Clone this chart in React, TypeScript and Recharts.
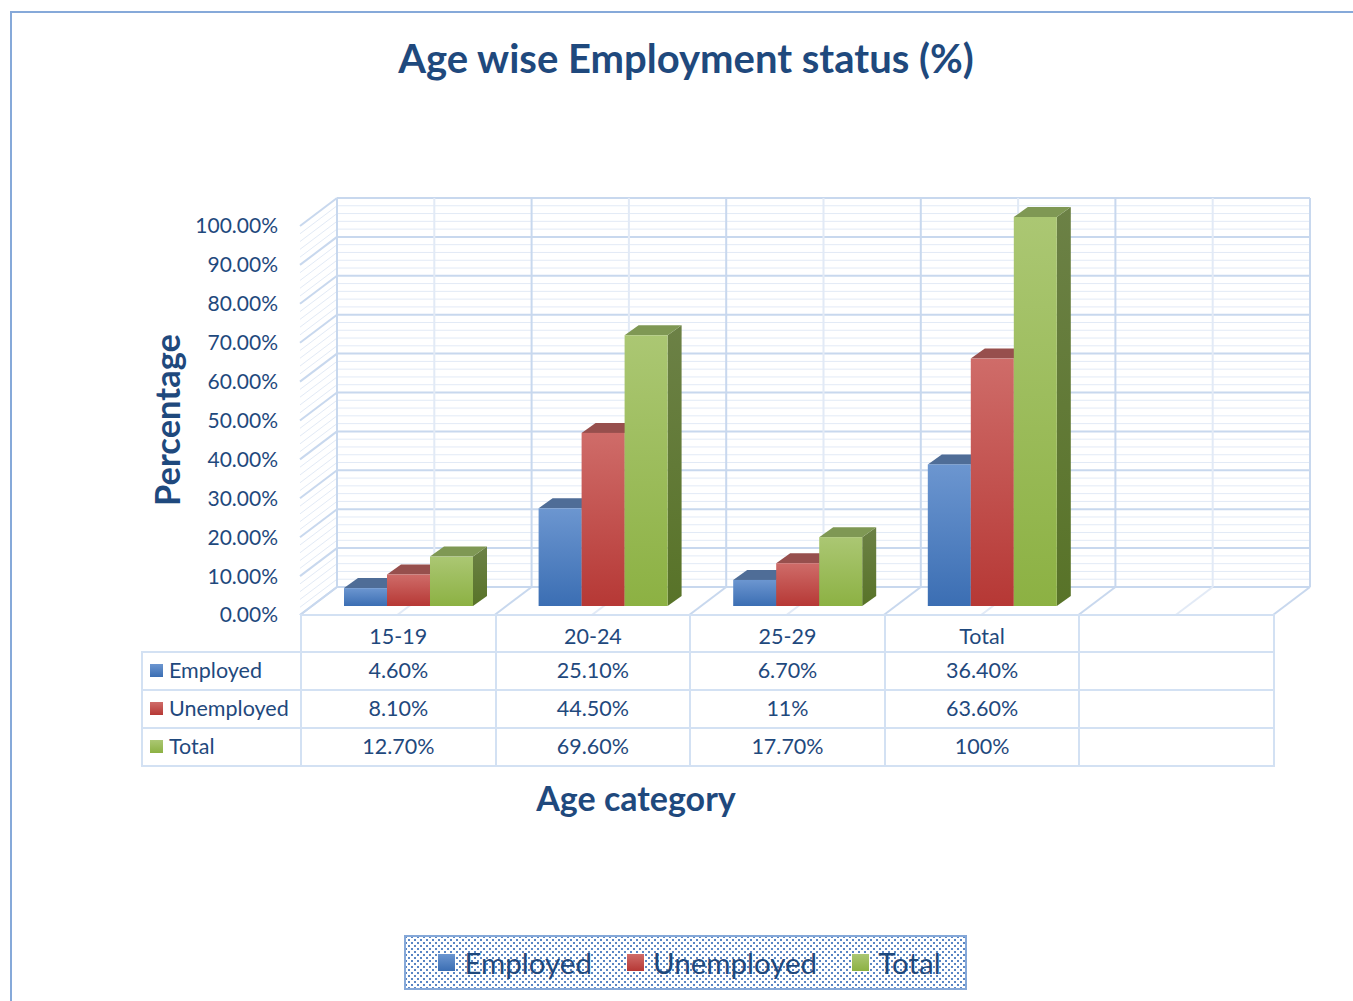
import React from 'react';
import { BarChart, Bar, XAxis, YAxis, CartesianGrid, Legend } from 'recharts';

const categories = ['15-19', '20-24', '25-29', 'Total', ''];
const employed = [4.6, 25.1, 6.7, 36.4, null];
const unemployed = [8.1, 44.5, 11, 63.6, null];
const total = [12.7, 69.6, 17.7, 100, null];
const seriesNames = ['Employed', 'Unemployed', 'Total'];
const gridTicks = [
  0, 2, 4, 6, 8, 10, 12, 14, 16, 18, 20, 22, 24, 26, 28, 30, 32, 34, 36, 38, 40,
  42, 44, 46, 48, 50, 52, 54, 56, 58, 60, 62, 64, 66, 68, 70, 72, 74, 76, 78, 80,
  82, 84, 86, 88, 90, 92, 94, 96, 98, 100,
];

const data = categories.map((name, i) => ({
  name,
  employed: employed[i],
  unemployed: unemployed[i],
  total: total[i],
}));

const W = 1353;
const H = 1001;
const PLOT_LEFT = 300;
const PLOT_TOP = 226;
const PLOT_RIGHT = 1273;
const PLOT_BOTTOM = 615;
const Y_W = 160;
const BAND = (PLOT_RIGHT - PLOT_LEFT) / categories.length;

// depth of the 3d box and where the bars sit in it
const DEPTH_X = 37;
const DEPTH_Y = -28;
const BAR_SHIFT_X = 11;
const BAR_SHIFT_Y = -9;
const BAR_DX = 14;
const BAR_DY = -10;

const TEXT = '#1f497d';
const FONT = 'Lato, "Open Sans", sans-serif';
const MAJOR = '#c8d8ee';
const MINOR = '#e2eaf6';

const tones: Record<string, { top: string; bottom: string; cap: string; side1: string; side2: string; flat: string }> = {
  employed: { top: '#6c96d0', bottom: '#3b6eb3', cap: '#4f6d97', side1: '#3f5f8f', side2: '#345384', flat: '#4f81bd' },
  unemployed: { top: '#cf6c69', bottom: '#b63835', cap: '#974f4d', side1: '#933836', side2: '#862b29', flat: '#c0504d' },
  total: { top: '#abc773', bottom: '#8cb143', cap: '#7f9854', side1: '#6c8146', side2: '#587328', flat: '#9bbb59' },
};

const fmt = (v: number | null) => {
  if (v === null || v === undefined) return '';
  return Number.isInteger(v) ? `${v}%` : `${v.toFixed(2)}%`;
};

function Bar3D(props: any) {
  const { x, y, width, height, tone } = props;
  if (height === undefined || height === null || height <= 0 || isNaN(y)) return null;
  const t = tones[tone];
  const fx = x + BAR_SHIFT_X;
  const fy = y + BAR_SHIFT_Y;
  const fb = fy + height;
  return (
    <g>
      <polygon
        points={`${fx + width},${fy} ${fx + width + BAR_DX},${fy + BAR_DY} ${fx + width + BAR_DX},${fb + BAR_DY} ${fx + width},${fb}`}
        fill={`url(#side-${tone})`}
      />
      <polygon
        points={`${fx},${fy} ${fx + BAR_DX},${fy + BAR_DY} ${fx + width + BAR_DX},${fy + BAR_DY} ${fx + width},${fy}`}
        fill={t.cap}
      />
      <rect x={fx} y={fy} width={width} height={height} fill={`url(#front-${tone})`} />
    </g>
  );
}

const drawHorizontal = (p: any) => {
  const major = p.index % 5 === 0;
  const stroke = major ? MAJOR : MINOR;
  const sw = major ? 2 : 1;
  return (
    <g key={p.key}>
      <line x1={p.x1 + DEPTH_X} y1={p.y1 + DEPTH_Y} x2={p.x2 + DEPTH_X} y2={p.y1 + DEPTH_Y} stroke={stroke} strokeWidth={sw} />
      <line x1={p.x1} y1={p.y1} x2={p.x1 + DEPTH_X} y2={p.y1 + DEPTH_Y} stroke={stroke} strokeWidth={sw} />
    </g>
  );
};

const drawVertical = (p: any) => {
  const c = p.x1;
  const edges = [c - BAND / 2];
  if (p.index === categories.length - 1) edges.push(c + BAND / 2);
  return (
    <g key={p.key}>
      <line x1={c + DEPTH_X} y1={p.y1 + DEPTH_Y} x2={c + DEPTH_X} y2={p.y2 + DEPTH_Y} stroke={MINOR} strokeWidth={2} />
      <line x1={c} y1={p.y2} x2={c + DEPTH_X} y2={p.y2 + DEPTH_Y} stroke={MINOR} strokeWidth={2} />
      {edges.map((e) => (
        <g key={e}>
          <line x1={e + DEPTH_X} y1={p.y1 + DEPTH_Y} x2={e + DEPTH_X} y2={p.y2 + DEPTH_Y} stroke={MAJOR} strokeWidth={2} />
          <line x1={e} y1={p.y2} x2={e + DEPTH_X} y2={p.y2 + DEPTH_Y} stroke={MAJOR} strokeWidth={2} />
        </g>
      ))}
    </g>
  );
};

const Swatch = ({ tone, size }: { tone: string; size: number }) => (
  <span
    style={{
      display: 'inline-block',
      width: size,
      height: size,
      background: `linear-gradient(${tones[tone].top}, ${tones[tone].bottom})`,
    }}
  />
);

const LegendBox = (props: any) => {
  const items = [...(props.payload || [])].sort(
    (a: any, b: any) => seriesNames.indexOf(a.value) - seriesNames.indexOf(b.value)
  );
  return (
    <div
      style={{
        width: 559,
        height: 51,
        boxSizing: 'content-box',
        border: '2px solid #85a8d8',
        backgroundColor: '#fff',
        backgroundImage:
          'radial-gradient(circle, #5a86c4 0.9px, transparent 1.4px), radial-gradient(circle, #5a86c4 0.9px, transparent 1.4px)',
        backgroundSize: '6px 6px',
        backgroundPosition: '0 0, 3px 3px',
        display: 'flex',
        alignItems: 'center',
        justifyContent: 'center',
        paddingLeft: 0,
        gap: 35,
        fontFamily: FONT,
        fontSize: 29.5,
        color: TEXT,
      }}
    >
      <div style={{ display: 'flex', alignItems: 'center', gap: 35, marginLeft: 8 }}>
        {items.map((it: any) => (
          <span key={it.dataKey} style={{ display: 'flex', alignItems: 'center', gap: 9 }}>
            <Swatch tone={it.dataKey} size={17} />
            <span>{it.value}</span>
          </span>
        ))}
      </div>
    </div>
  );
};

const cellBorder = '2px solid #d3e1f3';

const DataTable = () => {
  const rows = [
    { key: 'employed', label: seriesNames[0], values: employed },
    { key: 'unemployed', label: seriesNames[1], values: unemployed },
    { key: 'total', label: seriesNames[2], values: total },
  ];
  const cell: React.CSSProperties = {
    border: cellBorder,
    textAlign: 'center',
    padding: 0,
    width: BAND,
  };
  return (
    <table
      style={{
        position: 'absolute',
        left: 141,
        top: PLOT_BOTTOM - 1,
        borderCollapse: 'collapse',
        tableLayout: 'fixed',
        width: PLOT_RIGHT - 141,
        fontFamily: FONT,
        fontSize: 21.5,
        color: TEXT,
      }}
    >
      <colgroup>
        <col style={{ width: PLOT_LEFT - 141 }} />
        {categories.map((c, i) => (
          <col key={i} style={{ width: BAND }} />
        ))}
      </colgroup>
      <tbody>
        <tr style={{ height: 37 }}>
          <td style={{ border: 'none', borderBottom: cellBorder }} />
          {categories.map((c, i) => (
            <td key={i} style={{ ...cell, paddingTop: 5 }}>{c}</td>
          ))}
        </tr>
        {rows.map((r) => (
          <tr key={r.key} style={{ height: 38 }}>
            <td style={{ border: cellBorder, paddingLeft: 7, paddingBottom: 4, whiteSpace: 'nowrap' }}>
              <span style={{ display: 'inline-flex', alignItems: 'center', gap: 6 }}>
                <Swatch tone={r.key} size={13} />
                {r.label}
              </span>
            </td>
            {r.values.map((v, i) => (
              <td key={i} style={{ ...cell, paddingBottom: 3 }}>{fmt(v)}</td>
            ))}
          </tr>
        ))}
      </tbody>
    </table>
  );
};

export default function App() {
  return (
    <div style={{ position: 'absolute', left: 0, top: 0, width: W, height: H, overflow: 'hidden', background: '#fff' }}>
      <div
        style={{
          position: 'absolute',
          left: 10,
          top: 11,
          width: 1400,
          height: 1100,
          border: '2px solid #86a9d9',
        }}
      />
      <div
        style={{
          position: 'absolute',
          left: 0,
          width: 1372,
          top: 34,
          textAlign: 'center',
          fontFamily: FONT,
          fontWeight: 700,
          fontSize: 40,
          color: TEXT,
        }}
      >
        Age wise Employment status (%)
      </div>
      <div
        style={{
          position: 'absolute',
          left: 166,
          top: 420,
          transform: 'translate(-50%, -50%) rotate(-90deg)',
          fontFamily: FONT,
          fontWeight: 700,
          fontSize: 34.5,
          color: TEXT,
          whiteSpace: 'nowrap',
        }}
      >
        Percentage
      </div>
      <div
        style={{
          position: 'absolute',
          left: 636,
          top: 797,
          transform: 'translate(-50%, -50%)',
          fontFamily: FONT,
          fontWeight: 700,
          fontSize: 34,
          color: TEXT,
          whiteSpace: 'nowrap',
        }}
      >
        Age category
      </div>

      <div style={{ position: 'absolute', left: 0, top: 0 }}>
        <BarChart
          width={W}
          height={H}
          data={data}
          margin={{ top: PLOT_TOP, right: W - PLOT_RIGHT, bottom: H - PLOT_BOTTOM, left: PLOT_LEFT - Y_W }}
          barGap={0}
        >
          <defs>
            {Object.keys(tones).map((k) => (
              <React.Fragment key={k}>
                <linearGradient id={`front-${k}`} x1="0" y1="0" x2="0" y2="1">
                  <stop offset="0%" stopColor={tones[k].top} />
                  <stop offset="100%" stopColor={tones[k].bottom} />
                </linearGradient>
                <linearGradient id={`side-${k}`} x1="0" y1="0" x2="0" y2="1">
                  <stop offset="0%" stopColor={tones[k].side1} />
                  <stop offset="100%" stopColor={tones[k].side2} />
                </linearGradient>
              </React.Fragment>
            ))}
          </defs>
          <CartesianGrid horizontal={drawHorizontal} vertical={drawVertical} fill="none" syncWithTicks />
          <XAxis
            dataKey="name"
            height={0}
            interval={0}
            tick={() => <g />}
            axisLine={false}
            tickLine={false}
          />
          <YAxis
            width={Y_W}
            domain={[0, 100]}
            ticks={gridTicks}
            interval={0}
            tickSize={0}
            tickMargin={22}
            axisLine={false}
            tickLine={false}
            tick={{ fill: TEXT, fontSize: 21, fontFamily: FONT }}
            tickFormatter={(v: number) => (v % 10 === 0 ? `${v.toFixed(2)}%` : '')}
          />
          <Legend
            layout="vertical"
            verticalAlign="middle"
            align="center"
            content={<LegendBox />}
            wrapperStyle={{ left: 404, top: 935, width: 563, height: 55 }}
          />
          <Bar dataKey="employed" name={seriesNames[0]} fill={tones.employed.flat} barSize={43} isAnimationActive={false}
            shape={(p: any) => <Bar3D {...p} tone="employed" />} />
          <Bar dataKey="unemployed" name={seriesNames[1]} fill={tones.unemployed.flat} barSize={43} isAnimationActive={false}
            shape={(p: any) => <Bar3D {...p} tone="unemployed" />} />
          <Bar dataKey="total" name={seriesNames[2]} fill={tones.total.flat} barSize={43} isAnimationActive={false}
            shape={(p: any) => <Bar3D {...p} tone="total" />} />
        </BarChart>
      </div>
      <DataTable />
    </div>
  );
}
